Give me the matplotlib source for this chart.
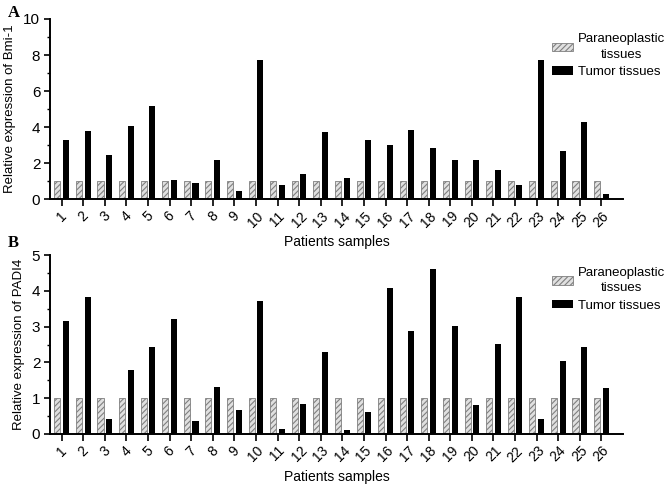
import matplotlib.pyplot as plt
import numpy as np
from matplotlib.ticker import MultipleLocator

plt.rcParams['font.family'] = ['Liberation Sans', 'DejaVu Sans']
plt.rcParams['hatch.color'] = '#808080'
plt.rcParams['hatch.linewidth'] = 0.8

patients = [str(i) for i in range(1, 27)]
bmi_para = [1.0] * 26
bmi_tumor = [3.30, 3.80, 2.46, 4.07, 5.17, 1.07, 0.89, 2.19, 0.46, 7.74, 0.78, 1.37, 3.74,
             1.17, 3.30, 3.02, 3.85, 2.83, 2.15, 2.20, 1.63, 0.81, 7.74, 2.70, 4.30, 0.31]
padi_para = [1.0] * 26
padi_tumor = [3.17, 3.82, 0.43, 1.79, 2.44, 3.22, 0.36, 1.31, 0.68, 3.71, 0.15, 0.85, 2.30,
              0.10, 0.61, 4.07, 2.88, 4.60, 3.01, 0.80, 2.52, 3.82, 0.43, 2.04, 2.43, 1.28]

fig = plt.figure(figsize=(6.71, 4.87), dpi=100)
axA = fig.add_axes([0.0745, 0.591, 0.854, 0.370])
axB = fig.add_axes([0.0745, 0.109, 0.854, 0.367])

x = np.arange(1, 27)
w = 0.28

# one panel: hatched control bars + black tumor bars
def panel(ax, para, tumor, ymax, major, minor, ylab, letter, ly, legy):
    ax.patch.set_alpha(0)
    ax.bar(x - 0.2, para, w, facecolor='#e0e0e0', edgecolor='#7f7f7f', hatch='//////',
           linewidth=0.6, label='Paraneoplastic\ntissues')
    ax.bar(x + 0.2, tumor, w, color='black', label='Tumor tissues')
    ax.set_xlim(0.46, 27.0)
    ax.set_ylim(0, ymax)
    ax.yaxis.set_major_locator(MultipleLocator(major))
    ax.yaxis.set_minor_locator(MultipleLocator(minor))
    ax.set_xticks(x)
    ax.set_xticklabels(patients, rotation=45, ha='center', fontsize=10)
    ax.tick_params(axis='y', labelsize=11, length=4, width=1.2, pad=3)
    ax.tick_params(axis='y', which='minor', length=2, width=1)
    ax.tick_params(axis='x', length=5, width=1.2, pad=2)
    for s in ['top', 'right']:
        ax.spines[s].set_visible(False)
    for s in ['left', 'bottom']:
        ax.spines[s].set_linewidth(1.4)
    ax.set_ylabel(ylab, fontsize=9.5, labelpad=5)
    ax.set_xlabel('Patients samples', fontsize=10, labelpad=4)
    leg = ax.legend(loc='upper left', bbox_to_anchor=(0.822, legy), bbox_transform=fig.transFigure,
                    frameon=False, fontsize=9.5, handlelength=1.6, handleheight=0.6,
                    handletextpad=0.4, borderaxespad=0, borderpad=0, labelspacing=0.4)
    t = leg.get_texts()[0]
    t.set_multialignment('center')
    t.set_linespacing(1.4)
    fig.text(0.012, ly, letter, fontsize=12, fontweight='bold', family='Liberation Serif',
             va='center')

panel(axA, bmi_para, bmi_tumor, 10, 2, 1, 'Relative expression of Bmi-1', 'A', 0.973, 0.932)
panel(axB, padi_para, padi_tumor, 5, 1, 0.5, 'Relative expression of PADI4', 'B', 0.501, 0.452)

fig.savefig('out.png', dpi=100)
